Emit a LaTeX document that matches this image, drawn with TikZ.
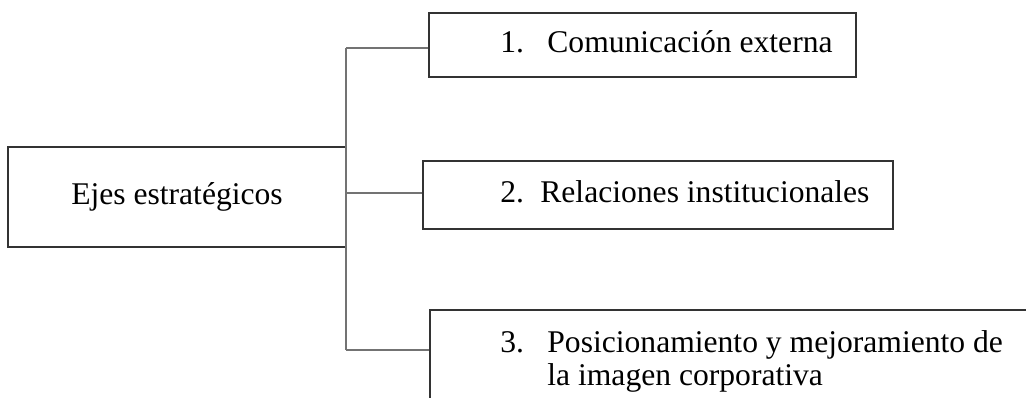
\documentclass[tikz,border=0pt]{standalone}
\usepackage{fontspec}
\setmainfont{Liberation Serif}
\usetikzlibrary{positioning}
\tikzset{
	caja/.style={draw=black!80, line width=0.6pt, inner sep=0pt},
	linea/.style={draw=black!55, line width=0.55pt},
	texto/.style={inner sep=0pt, anchor=base west},
}
\begin{document}
\begin{tikzpicture}[x=0.5pt, y=-0.5pt, font=\fontsize{15.8}{16.5}\selectfont]
	\useasboundingbox (0, 0) rectangle (1026, 397);
	\clip (0, 0) rectangle (1026, 397);

	\node[caja, minimum width=169pt, minimum height=50pt] (ejes) at (177, 197) {Ejes estratégicos};

	\node[caja, minimum width=213.5pt, minimum height=32pt] (b1) at (642.5, 45) {};
	\node[caja, minimum width=235pt, minimum height=34pt] (b2) at (658, 195) {};
	\node[caja, minimum width=305pt, minimum height=55pt] (b3) at (735, 365) {};

	\node[texto] (t1) at (500, 52) {\makebox[23.5pt][l]{1.}Comunicación externa};
	\node[texto] (t2) at (500, 202) {\makebox[20pt][l]{2.}Relaciones institucionales};
	\node[texto] (t3) at (500, 352) {\makebox[23.5pt][l]{3.}\parbox[t]{240pt}{\baselineskip=16.5pt
		Posicionamiento y mejoramiento de\\la imagen corporativa}};

	\coordinate (arriba) at (346, 48);
	\coordinate (medio) at (346, 193);
	\coordinate (abajo) at (346, 350);

	\draw[linea] (arriba) -- (abajo);
	\draw[linea] (arriba) -- (arriba -| b1.west);
	\draw[linea] (medio) -- (medio -| b2.west);
	\draw[linea] (abajo) -- (abajo -| b3.west);
\end{tikzpicture}
\end{document}
